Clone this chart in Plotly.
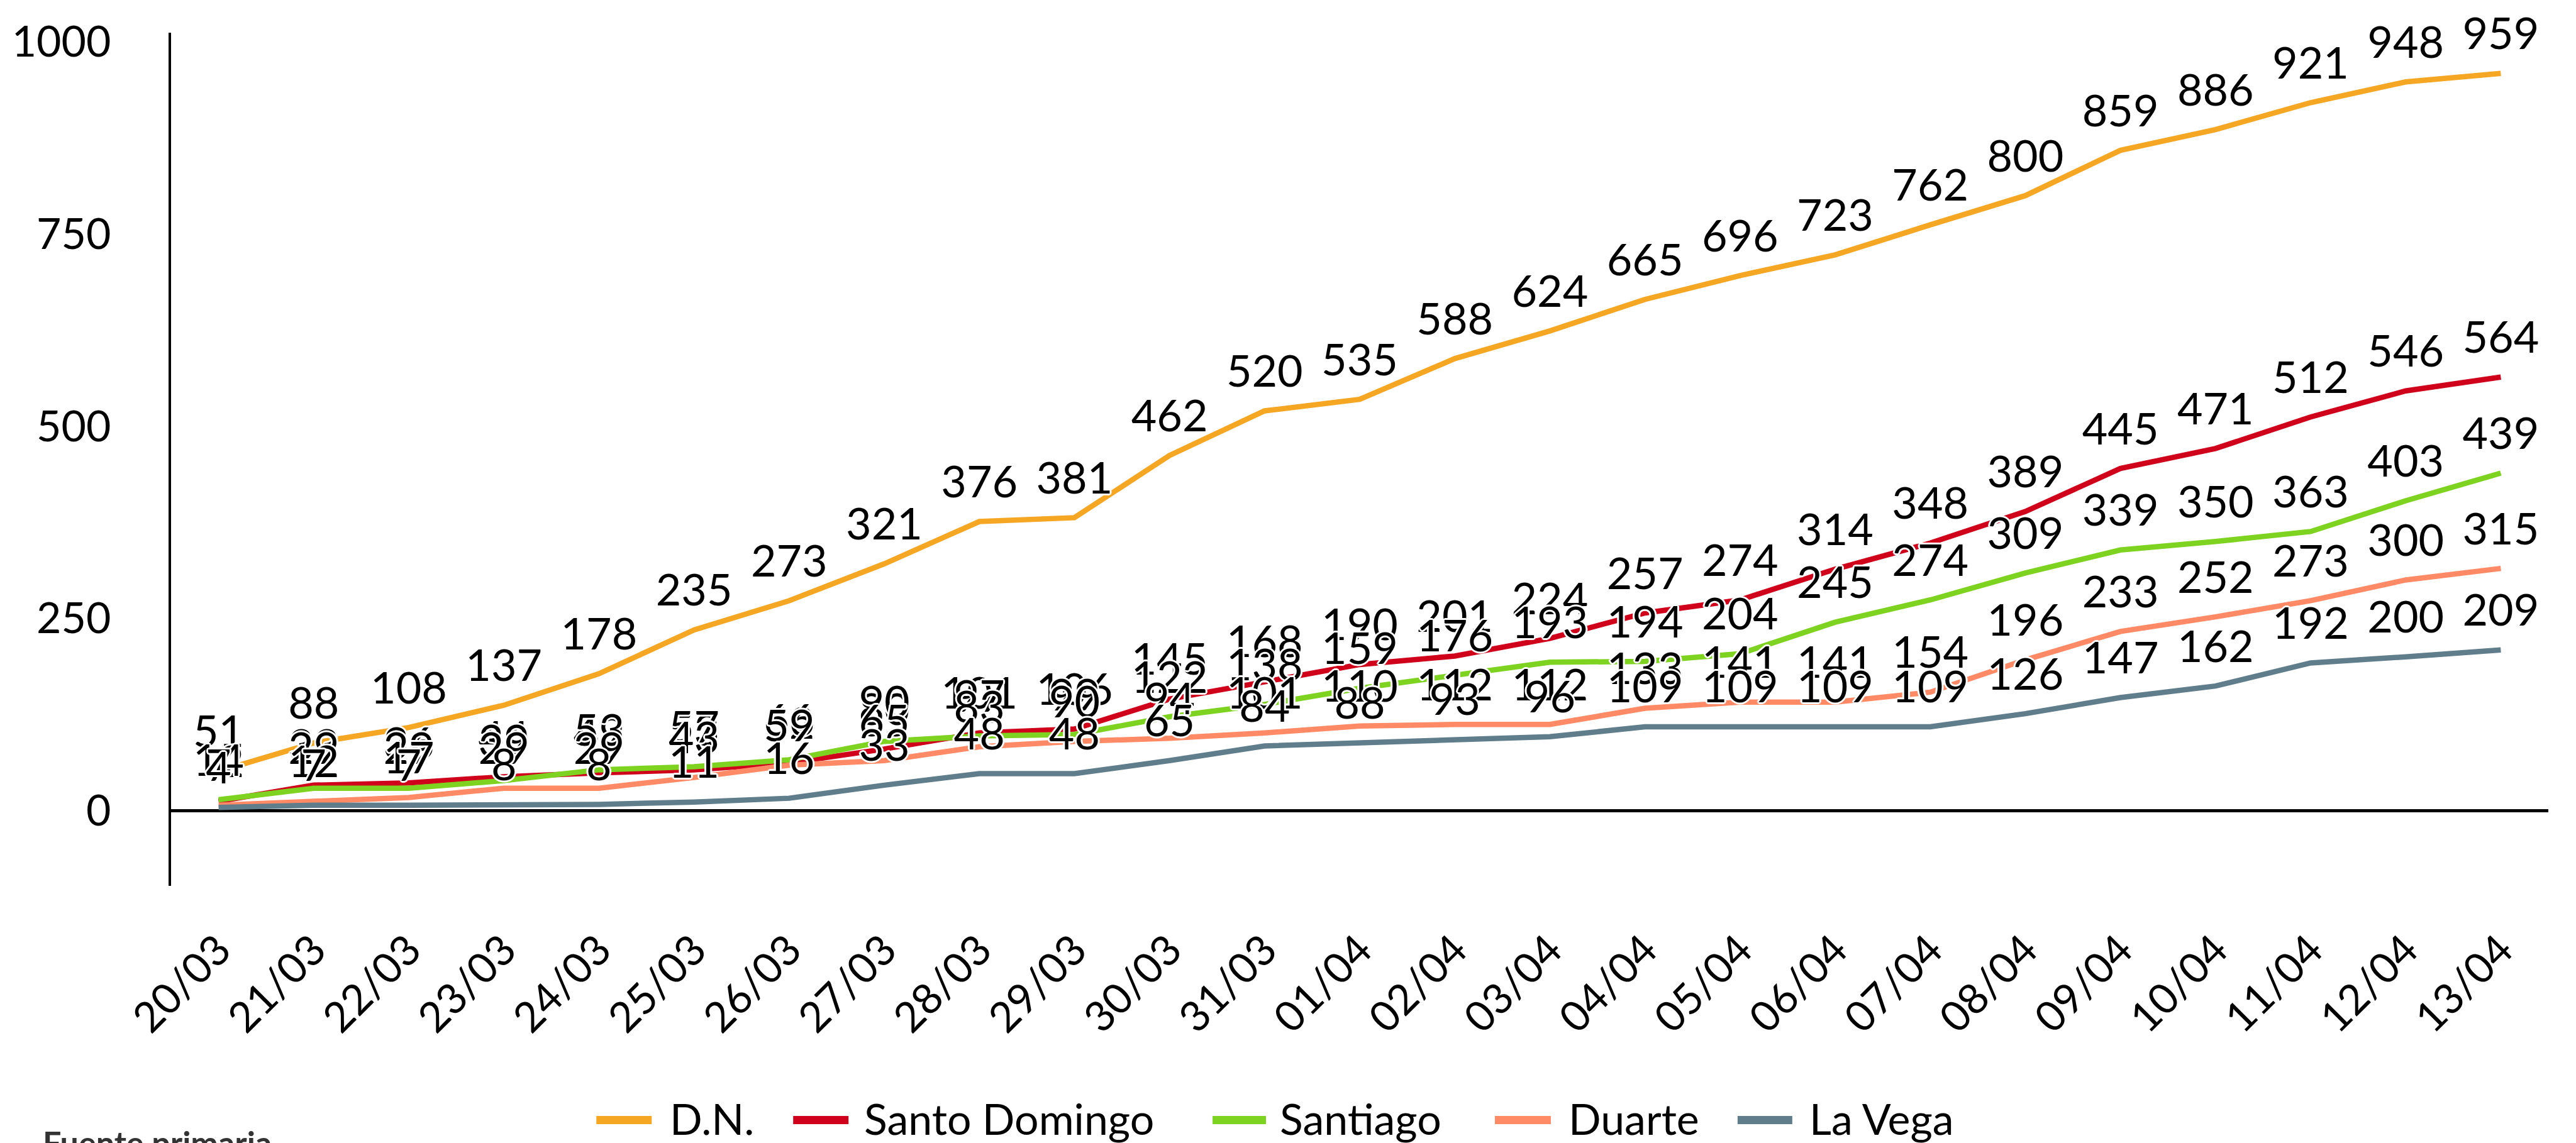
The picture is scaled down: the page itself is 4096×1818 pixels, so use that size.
import plotly.graph_objects as go

# ---------------- data ----------------
dates = ["20/03", "21/03", "22/03", "23/03", "24/03", "25/03", "26/03", "27/03",
         "28/03", "29/03", "30/03", "31/03", "01/04", "02/04", "03/04", "04/04",
         "05/04", "06/04", "07/04", "08/04", "09/04", "10/04", "11/04", "12/04", "13/04"]

series_names = ["D.N.", "Santo Domingo", "Santiago", "Duarte", "La Vega"]

dn = [51, 88, 108, 137, 178, 235, 273, 321, 376, 381, 462, 520, 535, 588, 624,
      665, 696, 723, 762, 800, 859, 886, 921, 948, 959]
santo_domingo = [12, 33, 36, 44, 49, 53, 62, 80, 101, 106, 145, 168, 190, 201, 224,
                 257, 274, 314, 348, 389, 445, 471, 512, 546, 564]
santiago = [14, 29, 29, 39, 53, 57, 66, 90, 97, 99, 122, 138, 159, 176, 193,
            194, 204, 245, 274, 309, 339, 350, 363, 403, 439]
duarte = [7, 12, 17, 29, 29, 43, 59, 65, 83, 90, 94, 101, 110, 112, 112,
          133, 141, 141, 154, 196, 233, 252, 273, 300, 315]
la_vega = [4, 7, 7, 8, 8, 11, 16, 33, 48, 48, 65, 84, 88, 93, 96,
           109, 109, 109, 109, 126, 147, 162, 192, 200, 209]

y_ticks = [0, 250, 500, 750, 1000]
source_note = "Fuente primaria"

all_series = [dn, santo_domingo, santiago, duarte, la_vega]

# ---------------- style / layout ----------------
colors = ["#F5A623", "#D0021B", "#7ED321", "#FF8A65", "#607D8B"]
FONT = "Lato"
W, H = 4096, 1818
L, R, T, B = 263.6, 51.6, 43.6, 416.7
PW = W - L - R
PH = H - T - B


def px_x(px):
    return (px - L) / PW


def px_y(py):
    return (H - B - py) / PH


halo = ", ".join(f"{dx}px {dy}px 0px white" for dx, dy in
                 [(3, 0), (-3, 0), (0, 3), (0, -3), (2, 2), (-2, -2), (2, -2), (-2, 2)])

fig = go.Figure()

# lines first
for name, vals, col in zip(series_names, all_series, colors):
    fig.add_trace(go.Scatter(
        x=dates, y=vals, name=name, mode="lines",
        line=dict(color=col, width=8.5),
        hoverinfo="skip", showlegend=False,
    ))

# data labels above all lines
for name, vals, col in zip(series_names, all_series, colors):
    fig.add_trace(go.Scatter(
        x=dates, y=vals, name=name, mode="markers+text",
        marker=dict(size=32, color="rgba(0,0,0,0)"),
        text=[str(v) for v in vals], textposition="top center",
        textfont=dict(family=FONT, size=70, color="black", shadow=halo),
        cliponaxis=False, hoverinfo="skip", showlegend=False,
    ))

# manual legend (long line samples)
legend_pos = [  # sample x0, sample x1, text x  (output pixels)
    (940, 1028, 1055),
    (1253, 1341, 1364),
    (1920, 2005, 2025),
    (2369, 2458, 2484),
    (2755, 2842, 2867),
]
leg_line_y = 1774
leg_text_y = 1771
shapes = []
annotations = []
for name, col, (sx0, sx1, tx) in zip(series_names, colors, legend_pos):
    shapes.append(dict(type="line", xref="paper", yref="paper",
                       x0=px_x(sx0), x1=px_x(sx1), y0=px_y(leg_line_y), y1=px_y(leg_line_y),
                       line=dict(color=col, width=13)))
    annotations.append(dict(text=name, xref="paper", yref="paper",
                            x=px_x(tx), y=px_y(leg_text_y), xanchor="left", yanchor="middle",
                            showarrow=False, font=dict(family=FONT, size=68, color="black")))

annotations.append(dict(text="<b>" + source_note + "</b>", xref="paper", yref="paper",
                        x=px_x(58), y=px_y(1776), xanchor="left", yanchor="top",
                        showarrow=False, font=dict(family=FONT, size=52, color="#333333")))

fig.update_layout(
    width=W, height=H,
    margin=dict(l=L, r=R, t=T, b=B, autoexpand=False, pad=0),
    paper_bgcolor="white", plot_bgcolor="white",
    font=dict(family=FONT, color="black"),
    showlegend=False,
    shapes=shapes, annotations=annotations,
    xaxis=dict(type="category", range=[-0.5, len(dates) - 0.5],
               showline=False, showgrid=False, zeroline=False, ticks="",
               tickangle=-45, tickfont=dict(family=FONT, size=67, color="black"),
               ticklabelstandoff=48),
    yaxis=dict(range=[-98, 1012], tickvals=y_ticks, ticktext=[str(v) for v in y_ticks],
               showgrid=False, showline=True, linecolor="black", linewidth=4,
               zeroline=True, zerolinecolor="black", zerolinewidth=4.5,
               ticks="", tickfont=dict(family=FONT, size=68, color="black"),
               ticklabelstandoff=78),
)

fig.write_html("out.html")
